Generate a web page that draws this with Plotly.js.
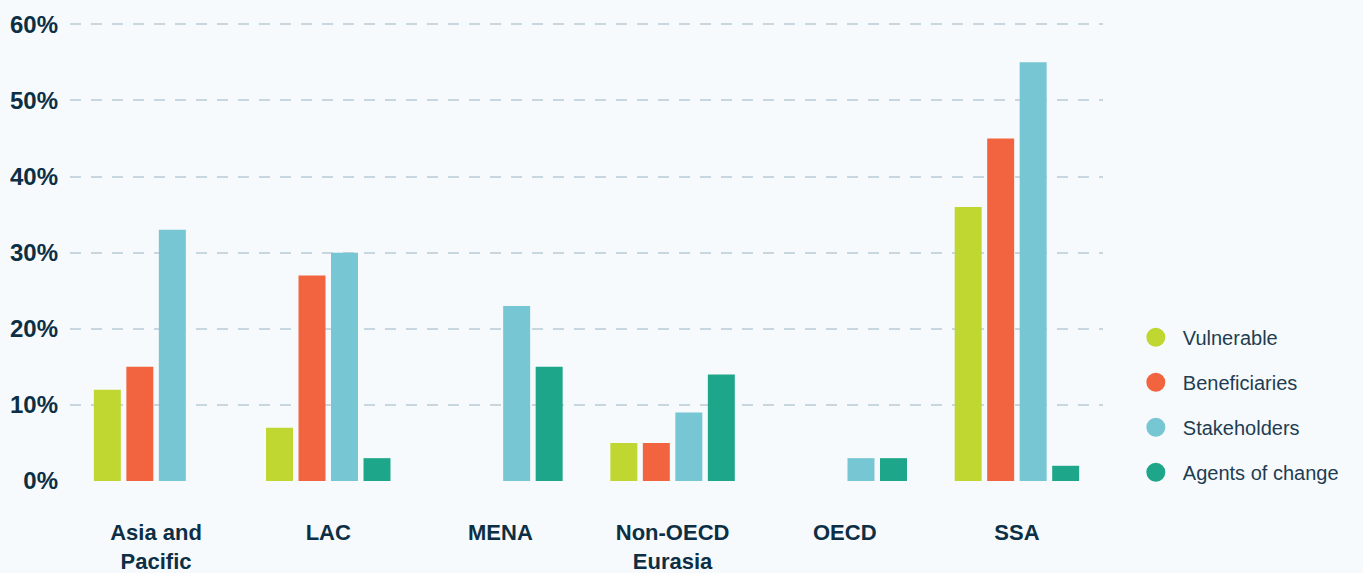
<!DOCTYPE html>
<html><head><meta charset="utf-8">
<script src="https://cdn.plot.ly/plotly-3.0.1.min.js"></script>
<style>html,body{margin:0;padding:0;background:#f6fafc;}</style>
</head><body>
<div id="chart" style="width:1363px;height:573px;"></div>
<script>
const categories = ["Asia and<br>Pacific", "LAC", "MENA", "Non-OECD<br>Eurasia", "OECD", "SSA"];
const seriesNames = ["Vulnerable", "Beneficiaries", "Stakeholders", "Agents of change"];
const vulnerable = [12, 7, 0, 5, 0, 36];
const beneficiaries = [15, 27, 0, 5, 0, 45];
const stakeholders = [33, 30, 23, 9, 3, 55];
const agentsOfChange = [0, 3, 15, 14, 3, 2];
const yTickVals = [0, 10, 20, 30, 40, 50, 60];
const yTickText = ["0%", "10%", "20%", "30%", "40%", "50%", "60%"];
const colors = ["#bfd730", "#f2643f", "#76c6d3", "#1ea68a"];

const seriesValues = [vulnerable, beneficiaries, stakeholders, agentsOfChange];
const traces = [];
seriesValues.forEach((vals, i) => {
  traces.push({
    type: "bar", x: categories, y: vals, name: seriesNames[i],
    marker: {color: colors[i]}, showlegend: false, legendgroup: "g" + i,
    hoverinfo: "skip"
  });
});
seriesValues.forEach((vals, i) => {
  traces.push({
    type: "scatter", mode: "markers", x: [null], y: [null], name: seriesNames[i],
    marker: {color: colors[i], size: 16, symbol: "circle", line: {color: colors[i], width: 3}},
    showlegend: true, legendgroup: "g" + i, hoverinfo: "skip"
  });
});

const layout = {
  width: 1363, height: 573,
  paper_bgcolor: "#f6fafc", plot_bgcolor: "#f6fafc",
  margin: {l: 70, r: 260, t: 22, b: 92},
  barmode: "group", bargap: 0.245, bargroupgap: 0.17,
  font: {family: "Liberation Sans, Arial, sans-serif", color: "#0d2f45"},
  xaxis: {
    type: "category", showgrid: false, zeroline: false, showline: false,
    ticks: "", ticklabelstandoff: 36,
    tickfont: {size: 22, weight: "bold", color: "#0d2f45"}
  },
  yaxis: {
    range: [0, 60.3], tickvals: yTickVals, ticktext: yTickText,
    showgrid: true, gridcolor: "#c8d6df", gridwidth: 2, griddash: "11px,10px",
    zeroline: false, showline: false, ticks: "", ticklabelstandoff: 11,
    tickfont: {size: 24, weight: "bold", color: "#0d2f45"}
  },
  legend: {
    x: 1.025, xanchor: "left", y: 0.166, yanchor: "middle",
    font: {size: 20, color: "#1e3d52"}, tracegroupgap: 16, itemwidth: 44,
    bgcolor: "rgba(0,0,0,0)"
  },
  showlegend: true
};
Plotly.newPlot("chart", traces, layout, {displayModeBar: false, staticPlot: true});
</script>
</body></html>
